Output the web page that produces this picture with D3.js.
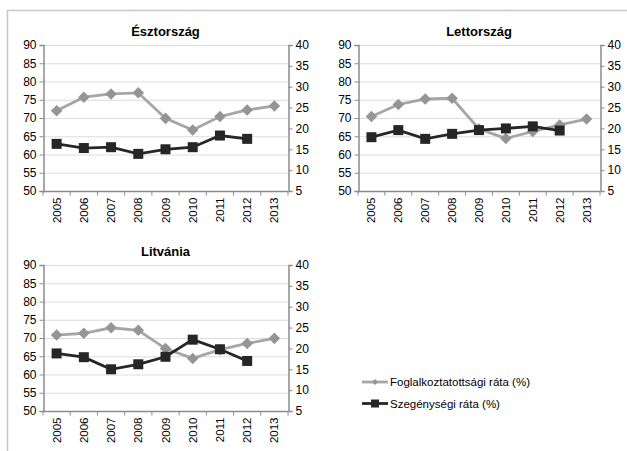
<!DOCTYPE html>
<html>
<head>
<meta charset="utf-8">
<script src="https://cdn.jsdelivr.net/npm/d3@7"></script>
<style>
  body { margin: 0; background: #fff; }
  svg { display: block; font-family: "Liberation Sans", Arial, sans-serif; }
</style>
</head>
<body>
<svg id="chart" width="627" height="451"></svg>
<script>
const years = ["2005", "2006", "2007", "2008", "2009", "2010", "2011", "2012", "2013"];
const countries = ["Észtország", "Lettország", "Litvánia"];
const seriesNames = ["Foglalkoztatottsági ráta (%)", "Szegénységi ráta (%)"];

// employment rate (left axis)
const empEst = [72.0, 75.7, 76.6, 76.9, 69.9, 66.7, 70.4, 72.2, 73.3];
const empLat = [70.4, 73.7, 75.2, 75.4, 67.0, 64.4, 66.3, 68.1, 69.7];
const empLit = [70.8, 71.3, 72.8, 72.1, 67.1, 64.4, 66.8, 68.5, 69.9];
// poverty rate (right axis), no 2013 value
const povEst = [16.3, 15.3, 15.5, 13.9, 15.0, 15.5, 18.3, 17.5];
const povLat = [17.9, 19.6, 17.5, 18.7, 19.6, 20.0, 20.5, 19.5];
const povLit = [18.8, 17.9, 15.0, 16.2, 18.0, 22.1, 19.8, 17.0];

const leftTicks = [50, 55, 60, 65, 70, 75, 80, 85, 90];
const rightTicks = [5, 10, 15, 20, 25, 30, 35, 40];

const svg = d3.select("#chart");
const grayLine = "#a6a6a6", grayMark = "#959595", darkLine = "#262626";

// outer frame
svg.append("path")
  .attr("d", "M7.5,451 V10.5 H627")
  .attr("fill", "none").attr("stroke", "#c8c8c8").attr("stroke-width", 1.5);

const panels = [
  { name: countries[0], emp: empEst, pov: povEst, x0: 43, x1: 288, y0: 45, y1: 191, ty: 36 },
  { name: countries[1], emp: empLat, pov: povLat, x0: 358, x1: 600, y0: 45, y1: 191, ty: 36 },
  { name: countries[2], emp: empLit, pov: povLit, x0: 43, x1: 288, y0: 265, y1: 411, ty: 256 }
];

panels.forEach(p => {
  const g = svg.append("g");
  const x = d3.scaleBand().domain(years).range([p.x0, p.x1]);
  const yL = d3.scaleLinear().domain([50, 90]).range([p.y1, p.y0]);
  const yR = d3.scaleLinear().domain([5, 40]).range([p.y1, p.y0]);

  // gridlines
  g.append("g").selectAll("line").data(leftTicks.slice(1)).join("line")
    .attr("x1", p.x0).attr("x2", p.x1)
    .attr("y1", d => yL(d) + 0.5).attr("y2", d => yL(d) + 0.5)
    .attr("stroke", "#dcdcdc").attr("stroke-width", 1);

  // left axis
  const la = g.append("g").attr("transform", `translate(${p.x0 + 0.5},0)`)
    .call(d3.axisLeft(yL).tickValues(leftTicks).tickSize(4).tickPadding(3));
  // right axis
  const ra = g.append("g").attr("transform", `translate(${p.x1 + 0.5},0)`)
    .call(d3.axisRight(yR).tickValues(rightTicks).tickSize(4).tickPadding(3));
  [la, ra].forEach(a => {
    a.select(".domain").attr("stroke", "#8c8c8c").attr("stroke-width", 1.5);
    a.selectAll(".tick line").attr("stroke", "#8c8c8c");
    a.selectAll("text").attr("font-size", 12).attr("fill", "#000")
      .attr("font-family", "Liberation Sans, Arial, sans-serif");
  });

  // bottom axis
  const ba = g.append("g").attr("transform", `translate(0,${p.y1 + 0.5})`);
  ba.append("line").attr("x1", p.x0).attr("x2", p.x1)
    .attr("stroke", "#8c8c8c").attr("stroke-width", 1.5);
  ba.selectAll(".tk").data(years.concat(["end"])).join("line").attr("class", "tk")
    .attr("x1", (d, i) => p.x0 + i * x.step()).attr("x2", (d, i) => p.x0 + i * x.step())
    .attr("y1", 0).attr("y2", 4).attr("stroke", "#8c8c8c");
  ba.selectAll("text").data(years).join("text")
    .attr("transform", d => `translate(${x(d) + x.bandwidth() / 2 + 4},6) rotate(-90)`)
    .attr("text-anchor", "end")
    .attr("font-size", 11.5)
    .text(d => d);

  // title
  g.append("text")
    .attr("x", (p.x0 + p.x1) / 2).attr("y", p.ty)
    .attr("text-anchor", "middle").attr("font-weight", "bold").attr("font-size", 13)
    .text(p.name);

  const cx = d => x(d) + x.bandwidth() / 2;

  // employment series
  const empData = years.map((yr, i) => ({ yr, v: p.emp[i] }));
  g.append("path").datum(empData)
    .attr("fill", "none").attr("stroke", grayLine).attr("stroke-width", 2.8)
    .attr("d", d3.line().x(d => cx(d.yr)).y(d => yL(d.v)));
  g.selectAll(".dia").data(empData).join("path").attr("class", "dia")
    .attr("transform", d => `translate(${cx(d.yr)},${yL(d.v)})`)
    .attr("d", d3.symbol(d3.symbolDiamond2, 85))
    .attr("fill", grayMark);

  // poverty series
  const povData = p.pov.map((v, i) => ({ yr: years[i], v }));
  g.append("path").datum(povData)
    .attr("fill", "none").attr("stroke", darkLine).attr("stroke-width", 2.8)
    .attr("d", d3.line().x(d => cx(d.yr)).y(d => yR(d.v)));
  g.selectAll(".sq").data(povData).join("rect").attr("class", "sq")
    .attr("x", d => cx(d.yr) - 5).attr("y", d => yR(d.v) - 5)
    .attr("width", 10).attr("height", 10)
    .attr("fill", darkLine);
});

// legend
const legend = svg.append("g").attr("transform", "translate(362,382)");
seriesNames.forEach((name, i) => {
  const row = legend.append("g").attr("transform", `translate(0,${i * 21.5})`);
  row.append("line").attr("x1", 0).attr("x2", 26)
    .attr("stroke", i === 0 ? grayLine : darkLine).attr("stroke-width", 2.8);
  if (i === 0) {
    row.append("path").attr("transform", "translate(13,0)")
      .attr("d", d3.symbol(d3.symbolDiamond2, 24)).attr("fill", grayMark);
  } else {
    row.append("rect").attr("x", 9).attr("y", -4).attr("width", 8).attr("height", 8).attr("fill", darkLine);
  }
  row.append("text").attr("x", 28).attr("y", 4)
    .attr("font-size", 11.5).text(name);
});
</script>
</body>
</html>
